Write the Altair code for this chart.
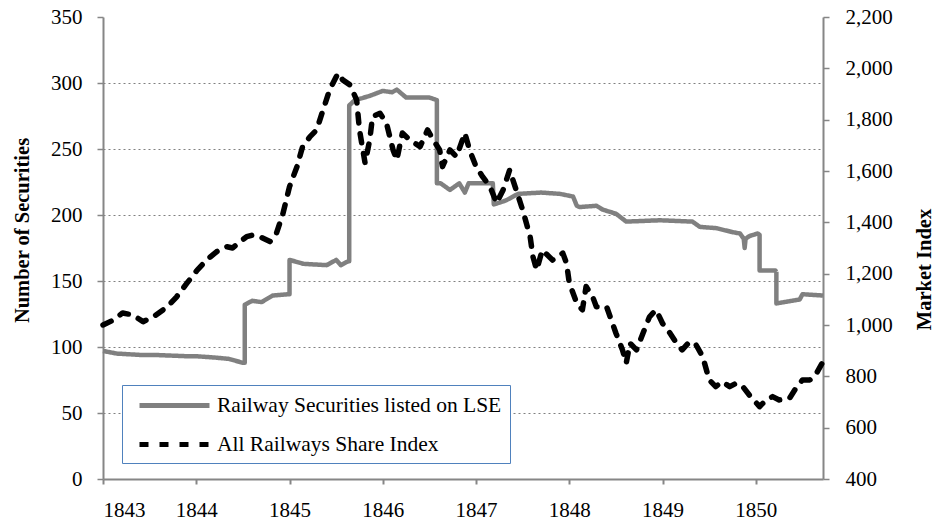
import altair as alt
import pandas as pd

S1 = "Railway Securities listed on LSE"
S2 = "All Railways Share Index"

sec_year = [1843.00, 1843.15, 1843.40, 1843.55, 1843.90, 1844.00, 1844.20, 1844.35, 1844.50, 1844.52,
            1844.52, 1844.60, 1844.70, 1844.82, 1844.99, 1845.00, 1845.00, 1845.15, 1845.40, 1845.50,
            1845.55, 1845.63, 1845.64, 1845.64, 1845.70, 1845.85, 1846.00, 1846.10, 1846.15, 1846.25,
            1846.50, 1846.58, 1846.58, 1846.62, 1846.72, 1846.82, 1846.88, 1846.92, 1847.10, 1847.18,
            1847.19, 1847.32, 1847.45, 1847.70, 1847.90, 1848.04, 1848.08, 1848.11, 1848.29, 1848.36,
            1848.50, 1848.61, 1848.97, 1849.32, 1849.40, 1849.58, 1849.75, 1849.83, 1849.87, 1849.88,
            1849.89, 1849.93, 1850.02, 1850.04, 1850.04, 1850.21, 1850.22, 1850.22, 1850.47, 1850.50,
            1850.72]
sec_count = [97, 95, 94, 94, 93, 93, 92, 91, 88, 88,
             132, 135, 134, 139, 140, 140, 166, 163, 162, 166,
             162, 165, 165, 283, 287, 290, 294, 293, 295, 289,
             289, 287, 224, 224, 219, 224, 217, 224, 224, 224,
             208, 211, 216, 217, 216, 214, 207, 206, 207, 204,
             201, 195, 196, 195, 191, 190, 187, 186, 182, 175,
             182, 184, 186, 185, 158, 158, 157, 133, 136, 140,
             139]

idx_year = [1843.00, 1843.11, 1843.21, 1843.32, 1843.43, 1843.54, 1843.69, 1843.79, 1843.90, 1844.01,
            1844.11, 1844.22, 1844.33, 1844.39, 1844.47, 1844.54, 1844.61, 1844.68, 1844.79, 1844.86,
            1844.93, 1845.00, 1845.08, 1845.14, 1845.22, 1845.29, 1845.36, 1845.43, 1845.52, 1845.57,
            1845.65, 1845.72, 1845.75, 1845.81, 1845.86, 1845.89, 1845.97, 1846.04, 1846.11, 1846.15,
            1846.21, 1846.29, 1846.40, 1846.48, 1846.54, 1846.61, 1846.64, 1846.72, 1846.79, 1846.88,
            1846.93, 1847.00, 1847.07, 1847.15, 1847.22, 1847.29, 1847.36, 1847.43, 1847.50, 1847.58,
            1847.61, 1847.65, 1847.71, 1847.82, 1847.93, 1847.97, 1848.00, 1848.08, 1848.14, 1848.18,
            1848.25, 1848.29, 1848.40, 1848.50, 1848.57, 1848.61, 1848.65, 1848.72, 1848.79, 1848.86,
            1848.93, 1849.00, 1849.08, 1849.15, 1849.21, 1849.29, 1849.36, 1849.43, 1849.50, 1849.57,
            1849.64, 1849.72, 1849.79, 1849.86, 1849.93, 1850.04, 1850.11, 1850.18, 1850.25, 1850.36,
            1850.43, 1850.50, 1850.58, 1850.65, 1850.72]
idx_value = [1000, 1019, 1047, 1039, 1013, 1032, 1071, 1110, 1163, 1214,
             1253, 1286, 1305, 1300, 1325, 1344, 1351, 1344, 1325, 1358,
             1435, 1539, 1617, 1695, 1734, 1760, 1838, 1916, 1981, 1955,
             1935, 1876, 1760, 1631, 1721, 1812, 1825, 1786, 1682, 1643,
             1748, 1721, 1695, 1760, 1721, 1682, 1617, 1682, 1656, 1748,
             1682, 1617, 1578, 1539, 1475, 1526, 1604, 1526, 1448, 1344,
             1266, 1214, 1292, 1253, 1280, 1241, 1163, 1085, 1059, 1150,
             1110, 1071, 1071, 968, 903, 851, 929, 903, 968, 1032,
             1059, 1006, 968, 929, 903, 935, 922, 877, 786, 760,
             779, 760, 773, 760, 727, 682, 708, 721, 708, 714,
             754, 786, 786, 812, 857]

df_sec = pd.DataFrame({"year": sec_year, "value": sec_count, "series": S1,
                       "ord": list(range(len(sec_year)))})
df_idx = pd.DataFrame({"year": idx_year, "value": idx_value, "series": S2,
                       "ord": list(range(len(idx_year)))})

FONT = "Liberation Serif"
AX = "#868686"

xenc = alt.X("year:Q",
             scale=alt.Scale(domain=[1843, 1850.72], nice=False, zero=False),
             axis=alt.Axis(values=list(range(1843, 1851)), format="d", title=None, grid=False,
                           domainColor=AX, domainWidth=2, tickColor=AX, tickWidth=2, tickSize=5,
                           labelPadding=15, labelFontSize=21, labelFont=FONT, labelColor="black"))

color = alt.Color("series:N", scale=alt.Scale(domain=[S1, S2], range=["#808080", "#000000"]),
                  legend=alt.Legend(title=None))
dash = alt.StrokeDash("series:N", scale=alt.Scale(domain=[S1, S2], range=[[1, 0], [9, 11]]),
                      legend=alt.Legend(title=None))

left = alt.Chart(df_sec).mark_line(strokeWidth=4.5, strokeCap="butt", strokeJoin="round").encode(
    x=xenc,
    y=alt.Y("value:Q", scale=alt.Scale(domain=[0, 350], nice=False),
            axis=alt.Axis(values=list(range(0, 351, 50)), title="Number of Securities",
                          grid=True, gridDash=[2, 3], gridColor="#808080", gridWidth=1,
                          gridOpacity={"condition": {"test": "datum.value == 350 || datum.value == 0", "value": 0}, "value": 1},
                          domainColor=AX, domainWidth=2, tickColor=AX, tickWidth=1.5, tickSize=6,
                          labelPadding=15, labelFontSize=21, labelFont=FONT, labelColor="black",
                          titleFont=FONT, titleFontSize=20.5, titleFontWeight="bold",
                          titleX=-81, titleY=213, titleBaseline="middle", titleAlign="center")),
    color=color, strokeDash=dash, order="ord:Q")

right = alt.Chart(df_idx).mark_line(strokeWidth=5.5, strokeCap="round", strokeJoin="round").encode(
    x=xenc,
    y=alt.Y("value:Q", scale=alt.Scale(domain=[400, 2200], nice=False, zero=False),
            axis=alt.Axis(orient="right", values=list(range(400, 2201, 200)), format=",.0f",
                          title="Market Index", titleAngle=270, grid=False,
                          domainColor=AX, domainWidth=2, tickColor=AX, tickWidth=1.5, tickSize=6,
                          labelPadding=16, labelFontSize=21, labelFont=FONT, labelColor="black",
                          titleFont=FONT, titleFontSize=20.5, titleFontWeight="bold",
                          titleX=101, titleY=252, titleBaseline="middle", titleAlign="center")),
    color=color, strokeDash=dash, order="ord:Q")

chart = alt.layer(left, right).resolve_scale(y="independent").properties(
    width=720, height=462,
    autosize=alt.AutoSizeParams(type="none"),
    padding={"left": 95, "top": 9, "right": 112, "bottom": 41},
).configure_view(stroke=None).configure_legend(
    orient="none", legendX=19, legendY=368, direction="vertical",
    strokeColor="#4F81BD", fillColor="white", padding=8, cornerRadius=0,
    symbolType="M-3.5,0H3.5", symbolSize=400, symbolStrokeWidth=5,
    symbolOffset=32, labelOffset=30,
    labelFont=FONT, labelFontSize=21.5, labelColor="black", rowPadding=16,
    labelLimit=500,
)

chart.save("out.html", embed_options={"renderer": "svg", "actions": False})
